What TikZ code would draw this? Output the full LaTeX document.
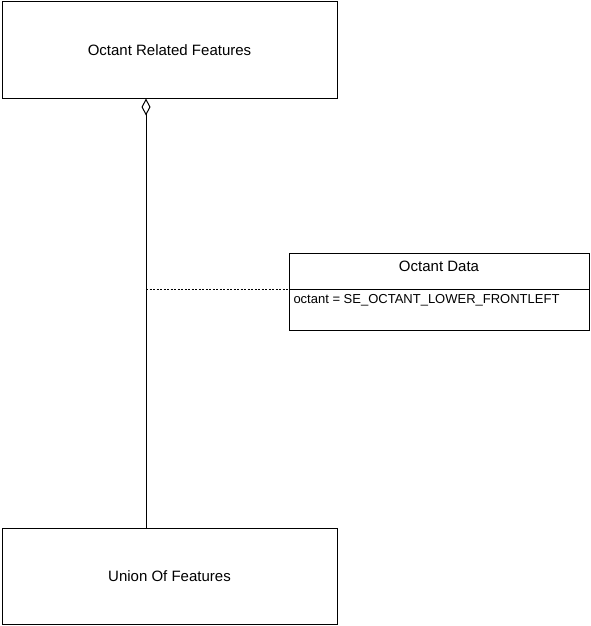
\documentclass[tikz,border=0pt]{standalone}
\usepackage{fontspec}
\setmainfont{Liberation Sans}
\usetikzlibrary{arrows.meta}
\begin{document}
\begin{tikzpicture}[x=1pt,y=-1pt,line width=1pt,
  classbox/.style={draw,rectangle,minimum width=335pt,minimum height=96pt,inner sep=0pt,font=\fontsize{15}{18}\selectfont},
  databox/.style={draw,rectangle,minimum width=300pt,minimum height=77pt,inner sep=0pt},
  label/.style={inner sep=0pt,font=\fontsize{15}{18}\selectfont},
  attr/.style={inner sep=0pt,anchor=west,font=\fontsize{13}{16}\selectfont},
  assoc/.style={dash pattern=on 2pt off 1.5pt}]
\useasboundingbox (0,0) rectangle (591,626);
\node[classbox] (top) at (169.5,50) {Octant Related Features};
\node[classbox] (bot) at (169.5,576) {Union Of Features};
\node[databox] (od) at (439,291.5) {};
\node[label] (odname) at (439,266) {Octant Data};
\coordinate (sep) at (289,289);
\draw (sep) -- (od.east |- sep);
\node[attr] (odattr) at (293,300) {octant = SE\_OCTANT\_LOWER\_FRONTLEFT};
\coordinate (ax) at (146,0);
\draw[-{Diamond[open,length=17pt,width=9pt,line width=1pt]}] (ax |- bot.north) -- (ax |- top.south);
\draw[assoc] (ax |- sep) -- (od.west |- sep);
\end{tikzpicture}
\end{document}
